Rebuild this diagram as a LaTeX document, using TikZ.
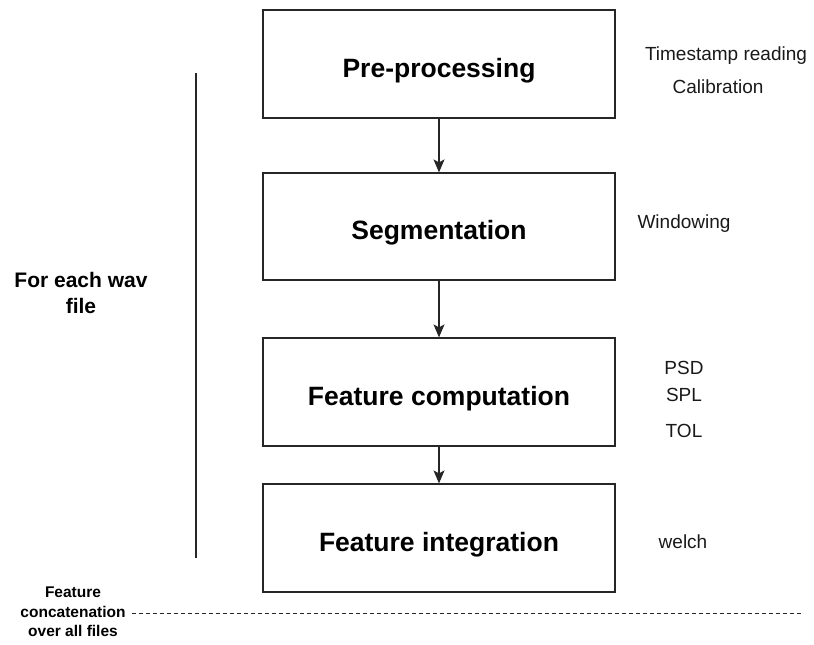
\documentclass[tikz,border=0pt]{standalone}
\usepackage{fontspec}
\setmainfont{Liberation Sans}
\usetikzlibrary{arrows.meta}
\begin{document}
\begin{tikzpicture}[x=1pt,y=-1pt,
  stagebox/.style={draw=black!85,line width=1.2pt,minimum width=352pt,minimum height=108pt,inner sep=0pt,text height=26.6pt,text depth=0pt,font=\fontsize{26.5}{30}\selectfont\bfseries},
  sidelabel/.style={font=\fontsize{19}{22}\selectfont,text=black!90,inner sep=0pt,text height=13.6pt,text depth=0pt},
  flow/.style={draw=black!85,line width=1.2pt,-{Stealth[length=13pt,width=11pt,inset=3pt]}},
  lefttext/.style={font=\fontsize{21}{26}\selectfont\bfseries,align=center,inner sep=0pt},
  bottomtext/.style={font=\fontsize{15.5}{19.5}\selectfont\bfseries,align=center,inner sep=0pt}]
\useasboundingbox (0,0) rectangle (814,645);
\node[stagebox] (pre) at (439,64) {Pre-processing};
\node[stagebox,minimum height=107pt] (seg) at (439,226.5) {Segmentation};
\node[stagebox] (feat) at (439,392) {Feature computation};
\node[stagebox] (integ) at (439,538) {Feature integration};
\draw[flow] (pre.south) -- (seg.north);
\draw[flow] (seg.south) -- (feat.north);
\draw[flow] (feat.south) -- (integ.north);
\node[sidelabel] (ts) at (726,54) {Timestamp reading};
\node[sidelabel] (cal) at (718,87) {Calibration};
\node[sidelabel] (win) at (684,222) {Windowing};
\node[sidelabel] (psd) at (684,368) {PSD};
\node[sidelabel] (spl) at (684,395) {SPL};
\node[sidelabel] (tol) at (684,431) {TOL};
\node[sidelabel] (welch) at (683,542) {welch};
\coordinate (vtop) at (196,73);
\coordinate (vbot) at (196,558);
\draw[black!85,line width=1.2pt] (vtop) -- (vbot);
\node[lefttext] (each) at (81,293) {For each wav\\file};
\node[bottomtext] (concat) at (73,612) {Feature\\concatenation\\over all files};
\coordinate (dend) at (803,613);
\draw[black!85,line width=1pt,dash pattern=on 4pt off 3pt] (concat.east |- dend) ++(6,0) -- (dend);
\end{tikzpicture}
\end{document}
